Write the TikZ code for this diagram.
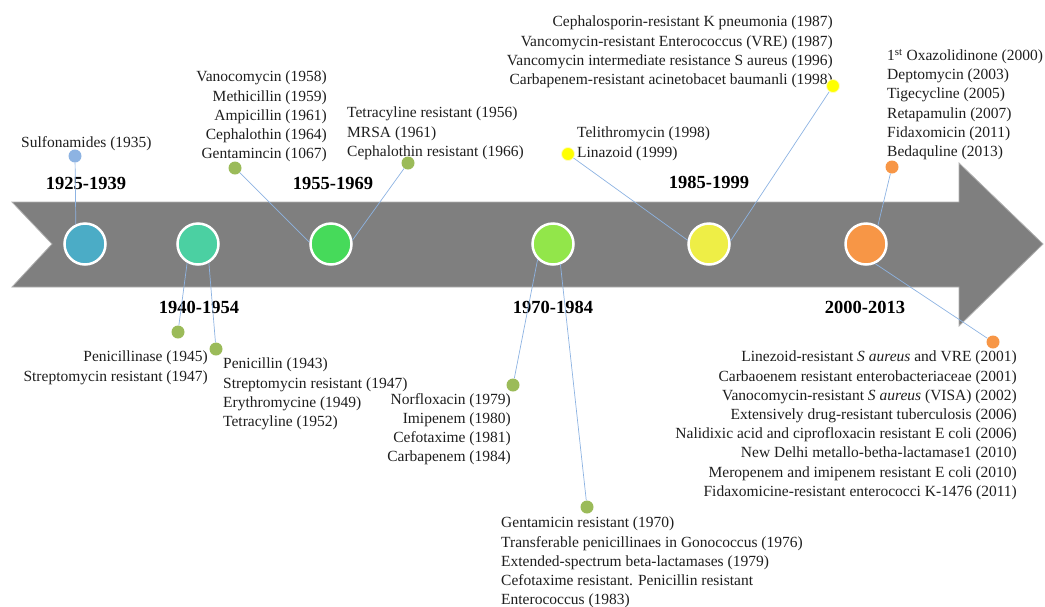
\documentclass[tikz,border=0pt]{standalone}
\usepackage{fontspec}
\setmainfont{Liberation Serif}
\definecolor{arrowgray}{HTML}{7F7F7F}
\definecolor{arrowedge}{HTML}{B0B0B0}
\definecolor{cA}{HTML}{4BACC6}
\definecolor{cB}{HTML}{4BD0A2}
\definecolor{cC}{HTML}{46DA5A}
\definecolor{cD}{HTML}{92E64A}
\definecolor{cE}{HTML}{EEEE46}
\definecolor{cF}{HTML}{F79646}
\definecolor{dblue}{HTML}{8DB3E2}
\definecolor{dgreen}{HTML}{9BBB59}
\definecolor{dyellow}{HTML}{FFFF00}
\definecolor{dorange}{HTML}{F79646}
\definecolor{linkblue}{HTML}{8DB3E2}
\definecolor{txtcol}{HTML}{1E1E1E}
\begin{document}
\begin{tikzpicture}[x=1pt,y=-1pt,
  txt/.style={inner sep=0pt, font=\fontsize{15.5pt}{19.2pt}\selectfont, text=txtcol},
  yr/.style={inner sep=0pt, font=\fontsize{18.5pt}{22pt}\selectfont\bfseries, text=black},
  big/.style={circle, draw=white, line width=2.5pt, minimum size=41pt, inner sep=0pt},
  dot/.style={circle, minimum size=13pt, inner sep=0pt},
  link/.style={draw=linkblue, line width=0.7pt}]
\useasboundingbox (0,0) rectangle (1045,606);
% arrow
\filldraw[fill=arrowgray, draw=arrowedge, line width=0.8pt]
  (12,202) -- (959,202) -- (959,163) -- (1043,244) -- (959,326) -- (959,287) -- (12,287) -- (52,244) -- cycle;
% big circles
\node[big, fill=cA] (c1) at (85,244) {};
\node[big, fill=cB] (c2) at (198,244) {};
\node[big, fill=cC] (c3) at (331,244) {};
\node[big, fill=cD] (c4) at (553,244) {};
\node[big, fill=cE] (c5) at (709,244) {};
\node[big, fill=cF] (c6) at (866,244) {};
% year labels
\node[yr] (y1) at (86,183) {1925-1939};
\node[yr] (y2) at (199,307) {1940-1954};
\node[yr] (y3) at (333,183) {1955-1969};
\node[yr] (y4) at (553,307) {1970-1984};
\node[yr] (y5) at (709,182) {1985-1999};
\node[yr] (y6) at (865,307) {2000-2013};
% text blocks
\node[txt, anchor=north west] (t1) at (21,136) {Sulfonamides (1935)};
\node[txt, anchor=north east, align=right] (t2) at (327,71) {Vanocomycin (1958)\\Methicillin (1959)\\Ampicillin (1961)\\Cephalothin (1964)\\Gentamincin (1067)};
\node[txt, anchor=north west, align=left] (t3) at (347,107) {Tetracyline resistant (1956)\\MRSA (1961)\\Cephalothin resistant (1966)};
\node[txt, anchor=north west, align=left] (t4) at (577,127) {Telithromycin (1998)\\Linazoid (1999)};
\node[txt, anchor=north east, align=right] (t5) at (833,16) {Cephalosporin-resistant K pneumonia (1987)\\Vancomycin-resistant Enterococcus (VRE) (1987)\\Vancomycin intermediate resistance S aureus (1996)\\Carbapenem-resistant acinetobacet baumanli (1998)};
\node[txt, anchor=north west, align=left] (t6) at (887,49) {1\textsuperscript{st} Oxazolidinone (2000)\\Deptomycin (2003)\\Tigecycline (2005)\\Retapamulin (2007)\\Fidaxomicin (2011)\\Bedaquline (2013)};
\node[txt, anchor=north east, align=right] (t7) at (208,351) {Penicillinase (1945)\\Streptomycin resistant (1947)};
\node[txt, anchor=north west, align=left] (t8) at (223,358) {Penicillin (1943)\\Streptomycin resistant (1947)\\Erythromycine (1949)\\Tetracyline (1952)};
\node[txt, anchor=north east, align=right] (t9) at (511,393) {Norfloxacin (1979)\\Imipenem (1980)\\Cefotaxime (1981)\\Carbapenem (1984)};
\node[txt, anchor=north west, align=left] (t10) at (501,517) {Gentamicin resistant (1970)\\Transferable penicillinaes in Gonococcus (1976)\\Extended-spectrum beta-lactamases (1979)\\Cefotaxime resistant. Penicillin resistant\\Enterococcus (1983)};
\node[txt, anchor=north east, align=right] (t11) at (1017,351) {Linezoid-resistant \textit{S aureus} and VRE (2001)\\Carbaoenem resistant enterobacteriaceae (2001)\\Vanocomycin-resistant \textit{S aureus} (VISA) (2002)\\Extensively drug-resistant tuberculosis (2006)\\Nalidixic acid and ciprofloxacin resistant E coli (2006)\\New Delhi metallo-betha-lactamase1 (2010)\\Meropenem and imipenem resistant E coli (2010)\\Fidaxomicine-resistant enterococci K-1476 (2011)};
% small dots
\node[dot, fill=dblue] (d1) at (75,156) {};
\node[dot, fill=dgreen] (d2) at (235,168) {};
\node[dot, fill=dgreen] (d3) at (408,163) {};
\node[dot, fill=dyellow, draw=yellow!25!white, line width=0.8pt] (d4) at (568,154) {};
\node[dot, fill=dyellow, draw=yellow!25!white, line width=0.8pt] (d5) at (833,86) {};
\node[dot, fill=dorange] (d6) at (892,167) {};
\node[dot, fill=dgreen] (d7) at (178,332) {};
\node[dot, fill=dgreen] (d8) at (216,349) {};
\node[dot, fill=dgreen] (d9) at (513,385) {};
\node[dot, fill=dgreen] (d10) at (587,507) {};
\node[dot, fill=dorange] (d11) at (993,342) {};
% connectors
\draw[link] (d1) -- (c1.115);
\draw[link] (d2) -- (c3.175);
\draw[link] (d3) -- (c3.10);
\draw[link] (d4) -- (c5.170);
\draw[link] (d5) -- (c5.8);
\draw[link] (d6) -- (c6.57);
\draw[link] (d7) -- (c2.240);
\draw[link] (d8) -- (c2.300);
\draw[link] (d9) -- (c4.225);
\draw[link] (d10) -- (c4.290);
\draw[link] (d11) -- (c6.295);
\end{tikzpicture}
\end{document}
